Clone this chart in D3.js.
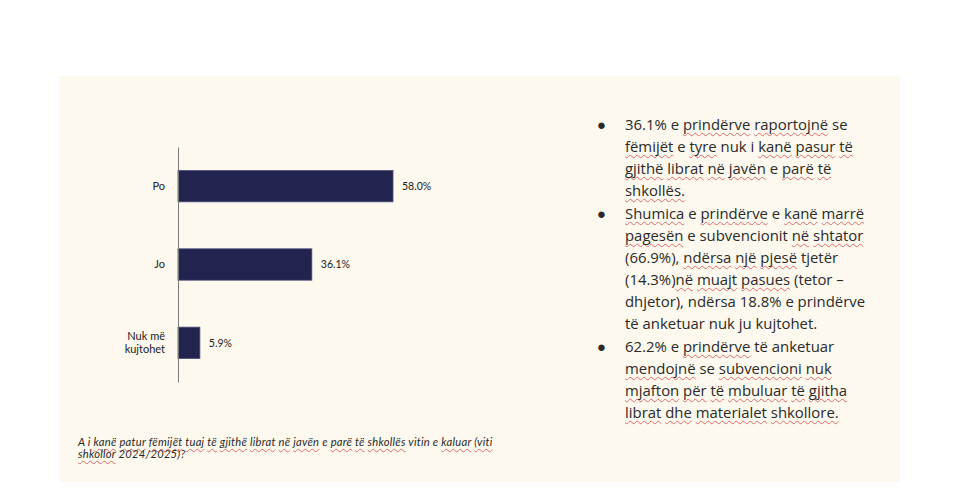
<!DOCTYPE html>
<html>
<head>
<meta charset="utf-8">
<script src="https://cdn.jsdelivr.net/npm/d3@7"></script>
<style>
  body { margin: 0; background: #fff; }
  #wrap { position: relative; width: 980px; height: 492px; overflow: hidden; }
  #wrap svg { position: absolute; left: 0; top: 0; }
  .txt { position: absolute; white-space: pre; }
  .sq { text-decoration: underline wavy #e06a6a; text-decoration-thickness: 1px; text-underline-offset: 2px; text-decoration-skip-ink: none; }
</style>
</head>
<body>
<div id="wrap"></div>
<script>
// chart data
const categories = ["Po", "Jo", "Nuk më kujtohet"];
const catLines   = [["Po"], ["Jo"], ["Nuk më", "kujtohet"]];
const values     = [58.0, 36.1, 5.9];
const valueLabels = ["58.0%", "36.1%", "5.9%"];

// caption (words between ~ are spell-check underlined)
const captionLines = [
  "A i ~kanë~ ~patur~ ~fëmijët~ ~tuaj~ ~të~ ~gjithë~ ~librat~ ~në~ ~javën~ e ~parë~ ~të~ ~shkollës~ vitin e ~kaluar~ ~(viti~",
  "~shkollor~ 2024/2025)?"
];

// bullet notes, one array per bullet, one string per wrapped line
const bullets = [
  ["36.1% e ~prindërve~ ~raportojnë~ se",
   "~fëmijët~ e ~tyre~ nuk i ~kanë~ ~pasur~ ~të~",
   "~gjithë~ ~librat~ ~në~ ~javën~ e ~parë~ ~të~",
   "~shkollës.~"],
  ["~Shumica~ e ~prindërve~ e ~kanë~ ~marrë~",
   "~pagesën~ e subvencionit ~në~ ~shtator~",
   "(66.9%), ~ndërsa~ ~një~ ~pjesë~ tjetër",
   "(14.3%)~në~ ~muajt~ ~pasues~ (tetor –",
   "dhjetor), ndërsa 18.8% e prindërve",
   "të anketuar nuk ju kujtohet."],
  ["62.2% e ~prindërve~ të anketuar",
   "~mendojnë~ se ~subvencioni~ ~nuk~",
   "~mjafton~ ~për~ ~të~ ~mbuluar~ ~të~ ~gjitha~",
   "~librat~ ~dhe~ ~materialet~ ~shkollore.~"]
];

const W = 980, H = 492;
const wrap = d3.select("#wrap");
const svg = wrap.append("svg").attr("width", W).attr("height", H);

// cream panel
svg.append("rect")
  .attr("x", 59).attr("y", 76)
  .attr("width", 841).attr("height", 406)
  .attr("fill", "#fdf9ee");

const x = d3.scaleLinear().domain([0, 58.0]).range([178, 393]);
const y = d3.scaleBand().domain(categories).range([147, 382])
  .paddingInner(0.6).paddingOuter(0.3);

const g = svg.append("g");

g.selectAll("rect.bar")
  .data(values)
  .join("rect")
  .attr("class", "bar")
  .attr("x", x(0))
  .attr("y", (d, i) => y(categories[i]))
  .attr("width", d => x(d) - x(0))
  .attr("height", y.bandwidth())
  .attr("fill", "#232350")
  .attr("stroke", "#4a4a78")
  .attr("stroke-width", 0.8);

// value labels
g.selectAll("text.val")
  .data(values)
  .join("text")
  .attr("class", "val")
  .attr("x", d => x(d) + 9)
  .attr("y", (d, i) => y(categories[i]) + y.bandwidth() / 2)
  .attr("dy", "0.35em")
  .attr("font-family", "Lato, sans-serif")
  .attr("font-size", 10.5)
  .attr("fill", "#222")
  .text((d, i) => valueLabels[i]);

// category axis
const yAxis = g.append("g")
  .attr("transform", "translate(" + x(0) + ",0)")
  .call(d3.axisLeft(y).tickSize(0).tickSizeOuter(0).tickPadding(13));
yAxis.select(".domain").attr("stroke", "#7a7a7a").attr("stroke-width", 1);
yAxis.selectAll(".tick text")
  .attr("font-family", "Lato, sans-serif")
  .attr("font-size", 11)
  .attr("fill", "#222")
  .each(function(d, i) {
    const lines = catLines[i];
    const t = d3.select(this).text(null);
    lines.forEach((l, k) => {
      t.append("tspan")
        .attr("x", -13)
        .attr("dy", k === 0 ? (0.32 - (lines.length - 1) * 0.6) + "em" : "1.2em")
        .text(l);
    });
  });

// text with wavy spell-check underlines
function fillLine(sel, str) {
  str.split(/(~[^~]+~)/).filter(s => s.length).forEach(part => {
    if (part[0] === "~") {
      sel.append("span").attr("class", "sq").text(part.slice(1, -1));
    } else {
      sel.append("span").text(part);
    }
  });
}

captionLines.forEach((l, i) => {
  const d = wrap.append("div").attr("class", "txt")
    .style("left", "78px")
    .style("top", (436 + i * 11.5) + "px")
    .style("font-family", "Lato, sans-serif")
    .style("font-style", "italic")
    .style("font-size", "11.2px")
    .style("letter-spacing", "0.25px")
    .style("line-height", "11px")
    .style("color", "#2a2a2a");
  fillLine(d, l);
});

let row = 0;
const lineH = 22.15, top0 = 113;
bullets.forEach(b => {
  wrap.append("div").attr("class", "txt")
    .style("left", "597px")
    .style("top", (top0 + row * lineH) + "px")
    .style("font-family", "'Open Sans', sans-serif")
    .style("font-size", "14.9px")
    .style("line-height", "22px")
    .style("color", "#2a2a2a")
    .text("●");
  b.forEach(l => {
    const d = wrap.append("div").attr("class", "txt")
      .style("left", "625px")
      .style("top", (top0 + row * lineH) + "px")
      .style("font-family", "'Open Sans', sans-serif")
      .style("font-size", "14.9px")
      .style("line-height", "22px")
      .style("color", "#2a2a2a");
    fillLine(d, l);
    row++;
  });
});
</script>
</body>
</html>
